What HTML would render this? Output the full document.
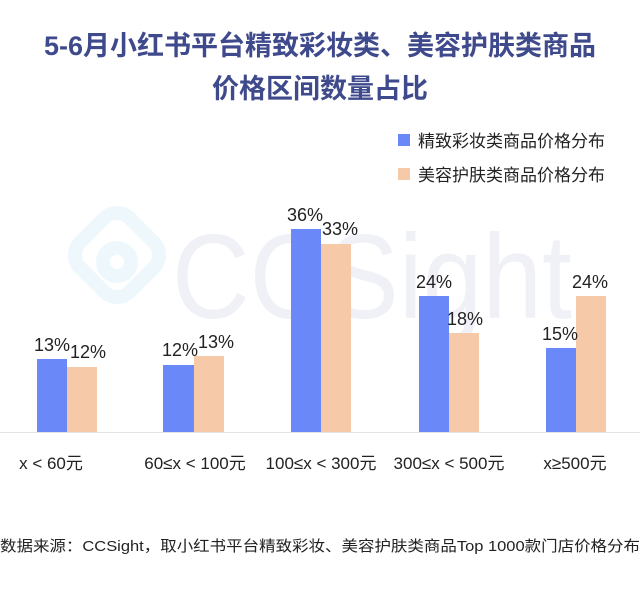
<!DOCTYPE html><html><head><meta charset="utf-8"><style>
body{margin:0;background:#fff;}
svg text{font-family:"Liberation Sans","Noto Sans CJK SC",sans-serif;}
</style></head><body>
<svg width="640" height="585" xmlns="http://www.w3.org/2000/svg">
<rect width="640" height="585" fill="#fff"/>
<text x="320" y="55" text-anchor="middle" font-size="27" font-weight="bold" fill="#3f4a8c">5-6月小红书平台精致彩妆类、美容护肤类商品</text>
<text x="320" y="98" text-anchor="middle" font-size="27" font-weight="bold" fill="#3f4a8c">价格区间数量占比</text>
<g fill="none" stroke="#eef8fc" stroke-width="14">
<rect x="82" y="220" width="70" height="70" rx="18" transform="rotate(45 117 255)"/>
<circle cx="117" cy="262" r="14"/>
</g>
<text x="172" y="318" font-size="120" fill="#f0f1f7" textLength="400" lengthAdjust="spacingAndGlyphs">CCSight</text>
<rect x="398" y="134" width="12" height="12" fill="#6a88f7"/>
<text x="418" y="147" font-size="17" fill="#222">精致彩妆类商品价格分布</text>
<rect x="398" y="168" width="12" height="12" fill="#f6c9a9"/>
<text x="418" y="181" font-size="17" fill="#222">美容护肤类商品价格分布</text>
<line x1="0" y1="432.5" x2="640" y2="432.5" stroke="#e3e3e3" stroke-width="1"/>
<g fill="#6a88f7">
<rect x="37" y="359" width="30" height="73"/>
<rect x="163" y="365" width="31" height="67"/>
<rect x="291" y="229" width="30" height="203"/>
<rect x="419" y="296" width="30" height="136"/>
<rect x="546" y="348" width="30" height="84"/>
</g>
<g fill="#f6c9a9">
<rect x="67" y="367" width="30" height="65"/>
<rect x="194" y="356" width="30" height="76"/>
<rect x="321" y="244" width="30" height="188"/>
<rect x="449" y="333" width="30" height="99"/>
<rect x="576" y="296" width="30" height="136"/>
</g>
<g font-size="18" fill="#222" text-anchor="middle">
<text x="52" y="351">13%</text><text x="88" y="358">12%</text>
<text x="180" y="356">12%</text><text x="216" y="348">13%</text>
<text x="305" y="221">36%</text><text x="340" y="235">33%</text>
<text x="434" y="288">24%</text><text x="465" y="325">18%</text>
<text x="560" y="340">15%</text><text x="590" y="288">24%</text>
</g>
<g font-size="17" fill="#222" text-anchor="middle">
<text x="51" y="469">x &lt; 60元</text>
<text x="195" y="469">60≤x &lt; 100元</text>
<text x="321" y="469">100≤x &lt; 300元</text>
<text x="449" y="469">300≤x &lt; 500元</text>
<text x="575" y="469">x≥500元</text>
</g>
<text x="0" y="551" font-size="15" fill="#222" textLength="640" lengthAdjust="spacingAndGlyphs">数据来源：CCSight，取小红书平台精致彩妆、美容护肤类商品Top 1000款门店价格分布</text>
</svg>
</body></html>
